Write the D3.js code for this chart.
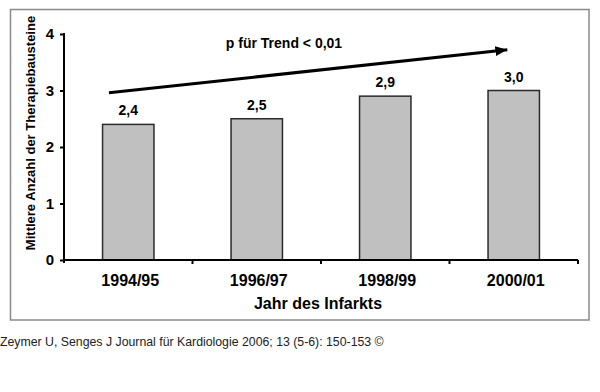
<!DOCTYPE html>
<html>
<head>
<meta charset="utf-8">
<script src="https://cdn.jsdelivr.net/npm/d3@7"></script>
<style>
  body { margin: 0; background: #fff; }
  svg { display: block; font-family: 'Liberation Sans', Arial, sans-serif; }
  .axis path, .axis line { stroke: #000; }
</style>
</head>
<body>
<svg id="chart" width="600" height="392"></svg>
<script>
var categories = ['1994/95', '1996/97', '1998/99', '2000/01'];
var values = [2.4, 2.5, 2.9, 3.0];
var valueLabels = ['2,4', '2,5', '2,9', '3,0'];
var yTicks = [0, 1, 2, 3, 4];
// trend arrow in data units: x as band index, y as value
var trendX = [-0.15, 2.95];
var trendY = [2.96, 3.72];
var trendLabel = 'p für Trend < 0,01';
var xTitle = 'Jahr des Infarkts';
var yTitle = 'Mittlere Anzahl der Therapiebausteine';
var caption = 'Zeymer U, Senges J Journal für Kardiologie 2006; 13 (5-6): 150-153 ©';

var svg = d3.select('#chart');
var borders = { left: 64, right: 578, top: 34, bottom: 260 };

// frame
svg.append('rect')
  .attr('x', 10.5)
  .attr('y', 9.5)
  .attr('width', 578.5)
  .attr('height', 310.5)
  .attr('fill', 'none')
  .attr('stroke', '#8a8a8a')
  .attr('stroke-width', 1.5);

var xScale = d3.scaleBand()
  .domain(categories)
  .range([borders.left, borders.right])
  .paddingInner(0.6)
  .paddingOuter(0.3);

var xIndex = d3.scaleLinear()
  .domain([-0.5, categories.length - 0.5])
  .range([borders.left, borders.right]);

var yScale = d3.scaleLinear()
  .domain([0, 4])
  .range([borders.bottom, borders.top]);

// bars
svg.selectAll('rect.bar')
  .data(values)
  .enter()
  .append('rect')
  .attr('class', 'bar')
  .attr('x', function (d, i) { return xScale(categories[i]); })
  .attr('y', function (d) { return yScale(d); })
  .attr('width', xScale.bandwidth())
  .attr('height', function (d) { return yScale(0) - yScale(d); })
  .attr('fill', '#c0c0c0')
  .attr('stroke', '#2a2a2a')
  .attr('stroke-width', 1.5);

// value labels
svg.selectAll('text.val')
  .data(values)
  .enter()
  .append('text')
  .attr('class', 'val')
  .attr('x', function (d, i) { return xScale(categories[i]) + xScale.bandwidth() / 2; })
  .attr('y', function (d) { return yScale(d) - 9; })
  .attr('text-anchor', 'middle')
  .style('font-size', '14px')
  .style('font-weight', 'bold')
  .text(function (d, i) { return valueLabels[i]; });

// y axis
var yAxis = d3.axisLeft(yScale)
  .tickValues(yTicks)
  .tickSize(4)
  .tickPadding(6)
  .tickFormat(d3.format('d'));

var gy = svg.append('g')
  .attr('class', 'axis')
  .attr('transform', 'translate(' + borders.left + ',0)')
  .call(yAxis);
gy.select('.domain').attr('stroke-width', 2).attr('d', 'M0,' + (borders.top - 1) + 'V' + (borders.bottom + 3));
gy.selectAll('.tick line').attr('stroke-width', 2);
gy.selectAll('.tick text')
  .style('font-size', '15px')
  .style('font-weight', 'bold')
  .attr('fill', '#000');

// x axis: labels under bands, ticks at band boundaries
var gx = svg.append('g')
  .attr('class', 'axis')
  .attr('transform', 'translate(0,' + borders.bottom + ')');
gx.append('line')
  .attr('x1', borders.left)
  .attr('x2', borders.right)
  .attr('stroke', '#000')
  .attr('stroke-width', 2);
gx.selectAll('line.tk')
  .data(d3.range(1, categories.length + 1))
  .enter()
  .append('line')
  .attr('class', 'tk')
  .attr('x1', function (d) { return xIndex(d - 0.5); })
  .attr('x2', function (d) { return xIndex(d - 0.5); })
  .attr('y1', 0)
  .attr('y2', 4)
  .attr('stroke', '#000')
  .attr('stroke-width', 2);
gx.selectAll('text')
  .data(categories)
  .enter()
  .append('text')
  .attr('x', function (d) { return xScale(d) + xScale.bandwidth() / 2 + 2; })
  .attr('y', 26)
  .attr('text-anchor', 'middle')
  .style('font-size', '16px')
  .style('font-weight', 'bold')
  .text(function (d) { return d; });

// axis titles
svg.append('text')
  .attr('x', 318)
  .attr('y', 309)
  .attr('text-anchor', 'middle')
  .style('font-size', '16px')
  .style('font-weight', 'bold')
  .text(xTitle);

svg.append('text')
  .attr('transform', 'translate(35,133) rotate(-90)')
  .attr('text-anchor', 'middle')
  .style('font-size', '13px')
  .style('font-weight', 'bold')
  .text(yTitle);

// trend arrow
svg.append('defs').append('marker')
  .attr('id', 'arrow')
  .attr('viewBox', '0 0 12 10')
  .attr('refX', 12)
  .attr('refY', 5)
  .attr('markerWidth', 12)
  .attr('markerHeight', 10)
  .attr('markerUnits', 'userSpaceOnUse')
  .attr('orient', 'auto')
  .append('path')
  .attr('d', 'M0,0L12,5L0,10Z')
  .attr('fill', '#000');

svg.append('line')
  .attr('x1', xIndex(trendX[0]))
  .attr('y1', yScale(trendY[0]))
  .attr('x2', xIndex(trendX[1]))
  .attr('y2', yScale(trendY[1]))
  .attr('stroke', '#000')
  .attr('stroke-width', 3)
  .attr('marker-end', 'url(#arrow)');

svg.append('text')
  .attr('x', 284)
  .attr('y', 48)
  .attr('text-anchor', 'middle')
  .style('font-size', '14px')
  .style('font-weight', 'bold')
  .text(trendLabel);

// source caption
svg.append('text')
  .attr('x', 0)
  .attr('y', 346)
  .style('font-size', '12.3px')
  .attr('fill', '#222')
  .text(caption);
</script>
</body>
</html>
